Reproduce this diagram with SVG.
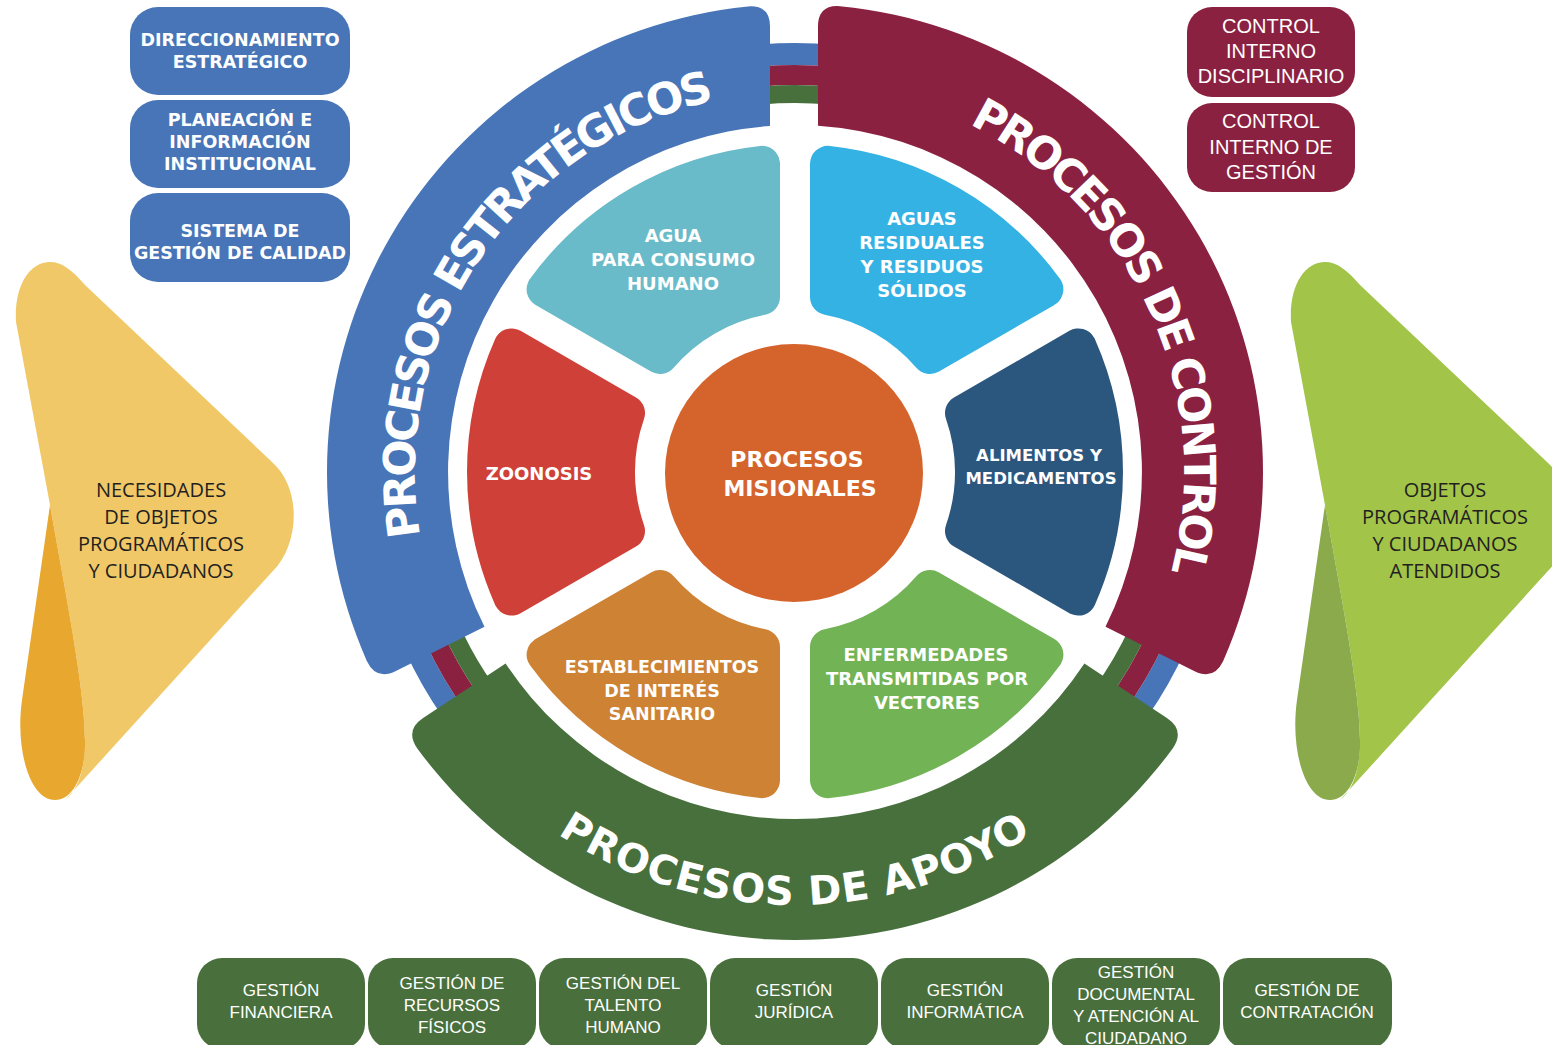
<svg xmlns="http://www.w3.org/2000/svg" width="1552" height="1045" viewBox="0 0 1552 1045">
<defs>
<style>
.b{font-family:"DejaVu Sans",Verdana,sans-serif;font-weight:bold;fill:#fff;text-anchor:middle}
.r{font-family:"Liberation Sans",Arial,sans-serif;fill:#fff;text-anchor:middle}
.t{font-family:"Open Sans","Liberation Sans",sans-serif;fill:#231f20;text-anchor:middle;font-size:20px}
.band{font-family:"DejaVu Sans",Verdana,sans-serif;font-weight:bold;fill:#fff}
.pet{stroke-width:36;stroke-linejoin:round}
.ring{fill:none}
</style>
<path id="pBlue" d="M 454.0 639.8 A 380 380 0 0 1 820.2 92.8"/>
<path id="pMaroon" d="M 898.6 97.0 A 389 389 0 0 1 1146.3 639.2"/>
<path id="pGreen" d="M 463.3 750.3 A 433 433 0 0 0 1126.7 750.3"/>
</defs>
<rect width="1552" height="1045" fill="#fff"/>

<g id="connectors">
<circle class="ring" cx="795" cy="472" r="418" stroke="#4775B7" stroke-width="22"/>
<circle class="ring" cx="795" cy="472" r="397" stroke="#8B2141" stroke-width="20"/>
<circle class="ring" cx="795" cy="472" r="378" stroke="#48703D" stroke-width="18"/>
</g>

<g id="band-estrategicos">
<path d="M 484.5 626.8 L 395.9 671.0 Q 376.2 680.8 366.8 660.9 A 468 468 0 0 1 748.1 6.4 Q 770 4.7 770 26.7 L 770 125.9 A 347 347 0 0 0 484.5 626.8 Z" fill="#4775B7"/>
<text class="band" font-size="44" letter-spacing="-3.6" text-anchor="middle"><textPath href="#pBlue" startOffset="50%">PROCESOS ESTRATÉGICOS</textPath></text>
</g>

<g id="band-control">
<path d="M 818 125.8 L 818 26.6 Q 818 4.6 839.9 6.2 A 468 468 0 0 1 1223.2 660.9 Q 1213.8 680.8 1194.1 671.0 L 1105.5 626.8 A 347 347 0 0 0 818 125.8 Z" fill="#8B2141"/>
<text class="band" font-size="44" letter-spacing="-3.8" text-anchor="middle"><textPath href="#pMaroon" startOffset="50%">PROCESOS DE CONTROL</textPath></text>
</g>

<g id="band-apoyo">
<path d="M 1084.4 663.5 L 1166.9 718.1 Q 1185.3 730.3 1172.7 748.4 A 468 468 0 0 1 417.3 748.4 Q 404.7 730.3 423.1 718.1 L 505.6 663.5 A 347 347 0 0 0 1084.4 663.5 Z" fill="#48703D"/>
<text class="band" font-size="40" letter-spacing="1" text-anchor="middle"><textPath href="#pGreen" startOffset="50%">PROCESOS DE APOYO</textPath></text>
</g>

<g id="petal-agua">
<path class="pet" d="M 544.6 289.3 A 310 310 0 0 1 762.0 163.8 L 762.0 297.1 A 178 178 0 0 0 660.0 356.0 Z" fill="#6ABBC9" stroke="#6ABBC9"/>
<text class="b" font-size="18"><tspan x="673" y="242">AGUA</tspan><tspan x="673" y="266">PARA CONSUMO</tspan><tspan x="673" y="290">HUMANO</tspan></text>
</g>

<g id="petal-aguas-residuales">
<path class="pet" d="M 828.0 163.8 A 310 310 0 0 1 1045.4 289.3 L 930.0 356.0 A 178 178 0 0 0 828.0 297.1 Z" fill="#35B2E4" stroke="#35B2E4"/>
<text class="b" font-size="18"><tspan x="922" y="225">AGUAS</tspan><tspan x="922" y="249">RESIDUALES</tspan><tspan x="922" y="273">Y RESIDUOS</tspan><tspan x="922" y="297">SÓLIDOS</tspan></text>
</g>

<g id="petal-alimentos">
<path class="pet" d="M 1078.4 346.4 A 310 310 0 0 1 1078.4 597.6 L 963.0 530.9 A 178 178 0 0 0 963.0 413.1 Z" fill="#2B567E" stroke="#2B567E"/>
<text class="b" font-size="16.5"><tspan x="1039" y="461">ALIMENTOS Y</tspan><tspan x="1041" y="484">MEDICAMENTOS</tspan></text>
</g>

<g id="petal-enfermedades">
<path class="pet" d="M 1045.4 654.7 A 310 310 0 0 1 828.0 780.2 L 828.0 646.9 A 178 178 0 0 0 930.0 588.0 Z" fill="#72B355" stroke="#72B355"/>
<text class="b" font-size="18"><tspan x="926" y="661">ENFERMEDADES</tspan><tspan x="927" y="685">TRANSMITIDAS POR</tspan><tspan x="927" y="709">VECTORES</tspan></text>
</g>

<g id="petal-establecimientos">
<path class="pet" d="M 762.0 780.2 A 310 310 0 0 1 544.6 654.7 L 660.0 588.0 A 178 178 0 0 0 762.0 646.9 Z" fill="#CE8233" stroke="#CE8233"/>
<text class="b" font-size="17.5"><tspan x="662" y="673">ESTABLECIMIENTOS</tspan><tspan x="662" y="697">DE INTERÉS</tspan><tspan x="662" y="720">SANITARIO</tspan></text>
</g>

<g id="petal-zoonosis">
<path class="pet" d="M 511.6 597.6 A 310 310 0 0 1 511.6 346.4 L 627.0 413.1 A 178 178 0 0 0 627.0 530.9 Z" fill="#CF4039" stroke="#CF4039"/>
<text class="b" font-size="18" x="539" y="480">ZOONOSIS</text>
</g>

<g id="center-misionales">
<circle cx="794" cy="473" r="129" fill="#D5642C"/>
<text class="b" font-size="22"><tspan x="797" y="467">PROCESOS</tspan><tspan x="800" y="496">MISIONALES</tspan></text>
</g>

<g id="box-direccionamiento">
<rect x="130" y="7" width="220" height="88" rx="28" fill="#4775B7"/>
<text class="b" font-size="17.5"><tspan x="240" y="46">DIRECCIONAMIENTO</tspan><tspan x="240" y="68">ESTRATÉGICO</tspan></text>
</g>
<g id="box-planeacion">
<rect x="130" y="100" width="220" height="88" rx="28" fill="#4775B7"/>
<text class="b" font-size="17.5"><tspan x="240" y="126">PLANEACIÓN E</tspan><tspan x="240" y="148">INFORMACIÓN</tspan><tspan x="240" y="170">INSTITUCIONAL</tspan></text>
</g>
<g id="box-calidad">
<rect x="130" y="193" width="220" height="89" rx="28" fill="#4775B7"/>
<text class="b" font-size="17.5"><tspan x="240" y="237">SISTEMA DE</tspan><tspan x="240" y="259">GESTIÓN DE CALIDAD</tspan></text>
</g>

<g id="box-control-disciplinario">
<rect x="1187" y="7" width="168" height="90" rx="25" fill="#8B2141"/>
<text class="r" font-size="20"><tspan x="1271" y="33">CONTROL</tspan><tspan x="1271" y="58">INTERNO</tspan><tspan x="1271" y="83">DISCIPLINARIO</tspan></text>
</g>
<g id="box-control-gestion">
<rect x="1187" y="103" width="168" height="89" rx="25" fill="#8B2141"/>
<text class="r" font-size="20"><tspan x="1271" y="128">CONTROL</tspan><tspan x="1271" y="154">INTERNO DE</tspan><tspan x="1271" y="179">GESTIÓN</tspan></text>
</g>

<g id="input-necesidades">
<path d="M 50 262 C 30 262 14 285 16 322 L 50 505 C 65 590 85 690 85 740 C 85 770 78 790 65 800 L 272 572 C 300 545 302 488 272 462 L 85 285 C 72 270 62 262 50 262 Z" fill="#F1C868"/>
<path d="M 50 505 L 22 700 C 15 750 30 800 55 800 C 75 800 86 770 85 740 C 85 690 65 590 50 505 Z" fill="#E8A830"/>
<text class="t"><tspan x="161" y="497">NECESIDADES</tspan><tspan x="161" y="524">DE OBJETOS</tspan><tspan x="161" y="551">PROGRAMÁTICOS</tspan><tspan x="161" y="578">Y CIUDADANOS</tspan></text>
</g>

<g id="output-objetos">
<g transform="translate(1275 0)">
<path d="M 50 262 C 30 262 14 285 16 322 L 50 505 C 65 590 85 690 85 740 C 85 770 78 790 65 800 L 272 572 C 300 545 302 488 272 462 L 85 285 C 72 270 62 262 50 262 Z" fill="#A1C449"/>
<path d="M 50 505 L 22 700 C 15 750 30 800 55 800 C 75 800 86 770 85 740 C 85 690 65 590 50 505 Z" fill="#8AAA4B"/>
</g>
<text class="t"><tspan x="1445" y="497">OBJETOS</tspan><tspan x="1445" y="524">PROGRAMÁTICOS</tspan><tspan x="1445" y="551">Y CIUDADANOS</tspan><tspan x="1445" y="578">ATENDIDOS</tspan></text>
</g>

<g id="box-financiera">
<rect x="197" y="958" width="168" height="91" rx="25" fill="#49703C"/>
<text class="r" font-size="17"><tspan x="281" y="996">GESTIÓN</tspan><tspan x="281" y="1018">FINANCIERA</tspan></text>
</g>
<g id="box-recursos">
<rect x="368" y="958" width="168" height="91" rx="25" fill="#49703C"/>
<text class="r" font-size="17"><tspan x="452" y="989">GESTIÓN DE</tspan><tspan x="452" y="1011">RECURSOS</tspan><tspan x="452" y="1033">FÍSICOS</tspan></text>
</g>
<g id="box-talento">
<rect x="539" y="958" width="168" height="91" rx="25" fill="#49703C"/>
<text class="r" font-size="17"><tspan x="623" y="989">GESTIÓN DEL</tspan><tspan x="623" y="1011">TALENTO</tspan><tspan x="623" y="1033">HUMANO</tspan></text>
</g>
<g id="box-juridica">
<rect x="710" y="958" width="168" height="91" rx="25" fill="#49703C"/>
<text class="r" font-size="17"><tspan x="794" y="996">GESTIÓN</tspan><tspan x="794" y="1018">JURÍDICA</tspan></text>
</g>
<g id="box-informatica">
<rect x="881" y="958" width="168" height="91" rx="25" fill="#49703C"/>
<text class="r" font-size="17"><tspan x="965" y="996">GESTIÓN</tspan><tspan x="965" y="1018">INFORMÁTICA</tspan></text>
</g>
<g id="box-documental">
<rect x="1052" y="958" width="168" height="91" rx="25" fill="#49703C"/>
<text class="r" font-size="17"><tspan x="1136" y="978">GESTIÓN</tspan><tspan x="1136" y="1000">DOCUMENTAL</tspan><tspan x="1136" y="1022">Y ATENCIÓN AL</tspan><tspan x="1136" y="1044">CIUDADANO</tspan></text>
</g>
<g id="box-contratacion">
<rect x="1223" y="958" width="169" height="91" rx="25" fill="#49703C"/>
<text class="r" font-size="17"><tspan x="1307" y="996">GESTIÓN DE</tspan><tspan x="1307" y="1018">CONTRATACIÓN</tspan></text>
</g>
</svg>
